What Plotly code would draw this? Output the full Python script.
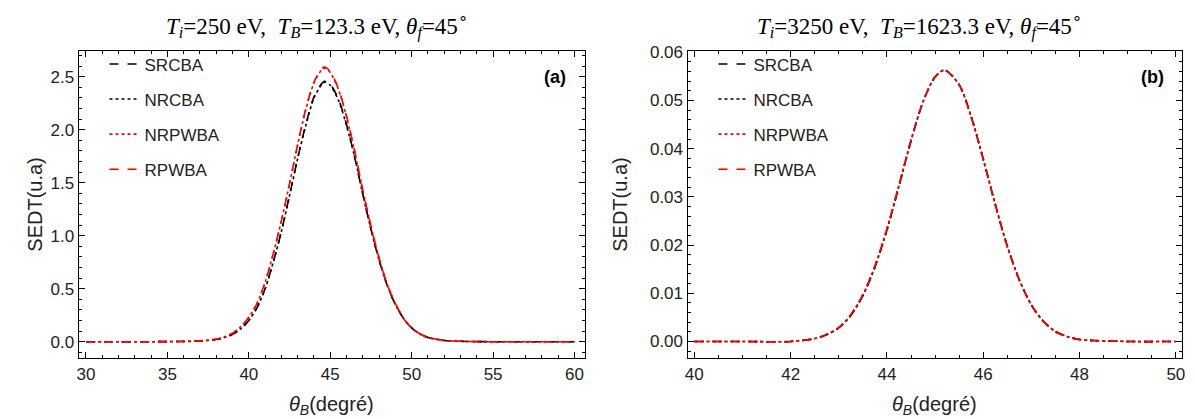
import plotly.graph_objects as go

# ---------------- data ----------------
theta_a = [30, 32, 34, 35, 36, 37, 38, 38.5, 39, 39.5, 40, 40.5, 41, 41.5, 42, 42.5, 43, 43.5, 44, 44.5,
           44.7, 45, 45.5, 46, 46.5, 47, 47.5, 48, 48.5, 49, 49.5, 50, 50.5, 51, 52, 53, 54, 55, 56, 58, 60]
srcba_a = [0.0, 0.0, 0.0, 0.001, 0.002, 0.006, 0.02, 0.04, 0.07, 0.12, 0.20, 0.32, 0.50, 0.75, 1.04, 1.38,
           1.73, 2.05, 2.31, 2.44, 2.46, 2.43, 2.29, 2.05, 1.74, 1.39, 1.06, 0.77, 0.53, 0.35, 0.22, 0.13,
           0.075, 0.04, 0.012, 0.004, 0.001, 0.0, 0.0, 0.0, 0.0]
nrcba_a = [0.0, 0.0, 0.0, 0.001, 0.002, 0.006, 0.02, 0.04, 0.07, 0.12, 0.20, 0.32, 0.50, 0.75, 1.04, 1.38,
           1.73, 2.04, 2.30, 2.43, 2.45, 2.42, 2.28, 2.04, 1.74, 1.39, 1.06, 0.77, 0.53, 0.35, 0.22, 0.13,
           0.075, 0.04, 0.012, 0.004, 0.001, 0.0, 0.0, 0.0, 0.0]
nrpwba_a = [0.0, 0.0, 0.0, 0.001, 0.003, 0.008, 0.024, 0.046, 0.08, 0.14, 0.23, 0.36, 0.56, 0.83, 1.14, 1.49,
            1.86, 2.19, 2.44, 2.57, 2.58, 2.54, 2.38, 2.12, 1.79, 1.43, 1.09, 0.79, 0.54, 0.36, 0.22, 0.13,
            0.075, 0.04, 0.012, 0.004, 0.001, 0.0, 0.0, 0.0, 0.0]
rpwba_a = [0.0, 0.0, 0.0, 0.001, 0.003, 0.008, 0.024, 0.046, 0.08, 0.14, 0.23, 0.36, 0.56, 0.83, 1.14, 1.49,
           1.86, 2.20, 2.45, 2.58, 2.59, 2.55, 2.39, 2.13, 1.80, 1.43, 1.09, 0.79, 0.54, 0.36, 0.22, 0.13,
           0.075, 0.04, 0.012, 0.004, 0.001, 0.0, 0.0, 0.0, 0.0]

theta_b = [40, 41, 42, 42.5, 42.75, 43, 43.25, 43.5, 43.75, 44, 44.25, 44.5, 44.75, 45, 45.2, 45.5, 45.75,
           46, 46.25, 46.5, 46.75, 47, 47.25, 47.5, 47.75, 48, 49, 50]
srcba_b = [0.0, 0.0, 0.0, 0.0006, 0.0014, 0.0028, 0.0054, 0.0095, 0.0154, 0.0231, 0.0322, 0.0416, 0.0497,
           0.0549, 0.0563, 0.0533, 0.0467, 0.0379, 0.0285, 0.0198, 0.0128, 0.0076, 0.0042, 0.0021, 0.0010,
           0.0004, 0.0, 0.0]
nrcba_b = [0.0, 0.0, 0.0, 0.0006, 0.0014, 0.0028, 0.0054, 0.0095, 0.0154, 0.0231, 0.0322, 0.0416, 0.0497,
           0.0549, 0.0563, 0.0533, 0.0467, 0.0379, 0.0285, 0.0198, 0.0128, 0.0076, 0.0042, 0.0021, 0.0010,
           0.0004, 0.0, 0.0]
nrpwba_b = [0.0, 0.0, 0.0, 0.0006, 0.0015, 0.0029, 0.0056, 0.0097, 0.0157, 0.0234, 0.0325, 0.0418, 0.0498,
            0.0549, 0.0563, 0.0532, 0.0465, 0.0377, 0.0283, 0.0196, 0.0127, 0.0075, 0.0041, 0.0020, 0.0010,
            0.0004, 0.0, 0.0]
rpwba_b = [0.0, 0.0, 0.0, 0.0006, 0.0015, 0.0029, 0.0056, 0.0097, 0.0157, 0.0234, 0.0325, 0.0418, 0.0498,
           0.0549, 0.0563, 0.0532, 0.0465, 0.0377, 0.0283, 0.0196, 0.0127, 0.0075, 0.0041, 0.0020, 0.0010,
           0.0004, 0.0, 0.0]

series_names = ["SRCBA", "NRCBA", "NRPWBA", "RPWBA"]
series_colors = ["black", "black", "red", "red"]
series_dash = ["dash", "dot", "dot", "dash"]

titles = ["<i>T<sub>i</sub></i>=250 eV,&nbsp; <i>T<sub>B</sub></i>=123.3 eV, <i>θ<sub>f</sub></i>=45<sup>∘</sup>",
          "<i>T<sub>i</sub></i>=3250 eV,&nbsp; <i>T<sub>B</sub></i>=1623.3 eV, <i>θ<sub>f</sub></i>=45<sup>∘</sup>"]

# ---------------- figure ----------------
W, H = 1195, 419
fig = go.Figure()

panels = [
    (theta_a, [srcba_a, nrcba_a, nrpwba_a, rpwba_a], "x", "y", "legend"),
    (theta_b, [srcba_b, nrcba_b, nrpwba_b, rpwba_b], "x2", "y2", "legend2"),
]
for p, (xs, ys_list, xa, ya, lg) in enumerate(panels):
    for i, ys in enumerate(ys_list):
        fig.add_trace(go.Scatter(
            x=xs, y=ys, mode="lines", name=series_names[i],
            line=dict(color=series_colors[i], dash=series_dash[i], width=1.6, shape="spline", smoothing=0.8),
            xaxis=xa, yaxis=ya, legend=lg, legendgroup=f"{p}{i}",
        ))

FONT = "Liberation Sans, Arial, sans-serif"
tickfont = dict(family=FONT, size=17, color="#222")

def frame_axis(domain, rng, dtick, minor_dtick, anchor, fmt):
    return dict(domain=domain, range=rng, dtick=dtick, tick0=0, showgrid=False, zeroline=False,
                showline=True, linecolor="black", linewidth=1.3, mirror="allticks",
                ticks="inside", ticklen=6, tickwidth=1, tickcolor="black", tickfont=tickfont,
                minor=dict(ticks="inside", ticklen=3, tickwidth=1, tickcolor="black",
                           dtick=minor_dtick, showgrid=False),
                anchor=anchor, tickformat=fmt)

AL, AR = 68, 577
BL, BR = 680, 1177
TOP, BOT = 36, 349

xa_dom = [AL / W, AR / W]
xb_dom = [BL / W, BR / W]
y_dom = [1 - BOT / H, 1 - TOP / H]

legend_font = dict(family=FONT, size=17, color="#222")
fig.update_layout(
    width=W, height=H, margin=dict(l=0, r=0, t=0, b=0),
    paper_bgcolor="white", plot_bgcolor="white",
    xaxis=frame_axis(xa_dom, [29.55, 60.65], 5, 1, "y", "d"),
    yaxis=frame_axis(y_dom, [-0.157, 2.74], 0.5, 0.1, "x", ".1f"),
    xaxis2=frame_axis(xb_dom, [39.86, 50.13], 2, 0.5, "y2", "d"),
    yaxis2=frame_axis(y_dom, [-0.0035, 0.0602], 0.01, 0.002, "x2", ".2f"),
    legend=dict(x=(AL + 26) / W, y=1 - (TOP - 5) / H, xanchor="left", yanchor="top", bgcolor="rgba(0,0,0,0)",
                font=legend_font, tracegroupgap=10, traceorder="grouped", itemwidth=30),
    legend2=dict(x=(BL + 26) / W, y=1 - (TOP - 5) / H, xanchor="left", yanchor="top", bgcolor="rgba(0,0,0,0)",
                 font=legend_font, tracegroupgap=10, traceorder="grouped", itemwidth=30),
    showlegend=True,
)

ann = []
frame_cx = [(AL + AR) / 2, (BL + BR) / 2]
for k in range(2):
    ann.append(dict(text=titles[k], x=(frame_cx[k] - 15) / W, y=1 - 10 / H, xref="paper", yref="paper",
                    xanchor="center", yanchor="middle", showarrow=False,
                    font=dict(family="Liberation Serif, Times New Roman, serif", size=23, color="black")))
    ann.append(dict(text="<i>θ<sub>B</sub></i>(degré)", x=frame_cx[k] / W, y=1 - 397 / H,
                    xref="paper", yref="paper", xanchor="center", yanchor="middle", showarrow=False,
                    font=dict(family=FONT, size=20, color="#222")))
ann.append(dict(text="SEDT(u.a)", x=24 / W, y=1 - (TOP + BOT) / 2 / H, xref="paper", yref="paper",
                textangle=-90, xanchor="center", yanchor="middle", showarrow=False,
                font=dict(family=FONT, size=20, color="#222")))
ann.append(dict(text="SEDT(u.a)", x=(BL - 68) / W, y=1 - (TOP + BOT) / 2 / H, xref="paper", yref="paper",
                textangle=-90, xanchor="center", yanchor="middle", showarrow=False,
                font=dict(family=FONT, size=20, color="#222")))
ann.append(dict(text="<b>(a)</b>", x=(AR - 30) / W, y=1 - (TOP + 26) / H, xref="paper", yref="paper",
                xanchor="center", yanchor="middle", showarrow=False,
                font=dict(family=FONT, size=18, color="black")))
ann.append(dict(text="<b>(b)</b>", x=(BR - 30) / W, y=1 - (TOP + 26) / H, xref="paper", yref="paper",
                xanchor="center", yanchor="middle", showarrow=False,
                font=dict(family=FONT, size=18, color="black")))
fig.update_layout(annotations=ann)

fig.write_html("out.html")
